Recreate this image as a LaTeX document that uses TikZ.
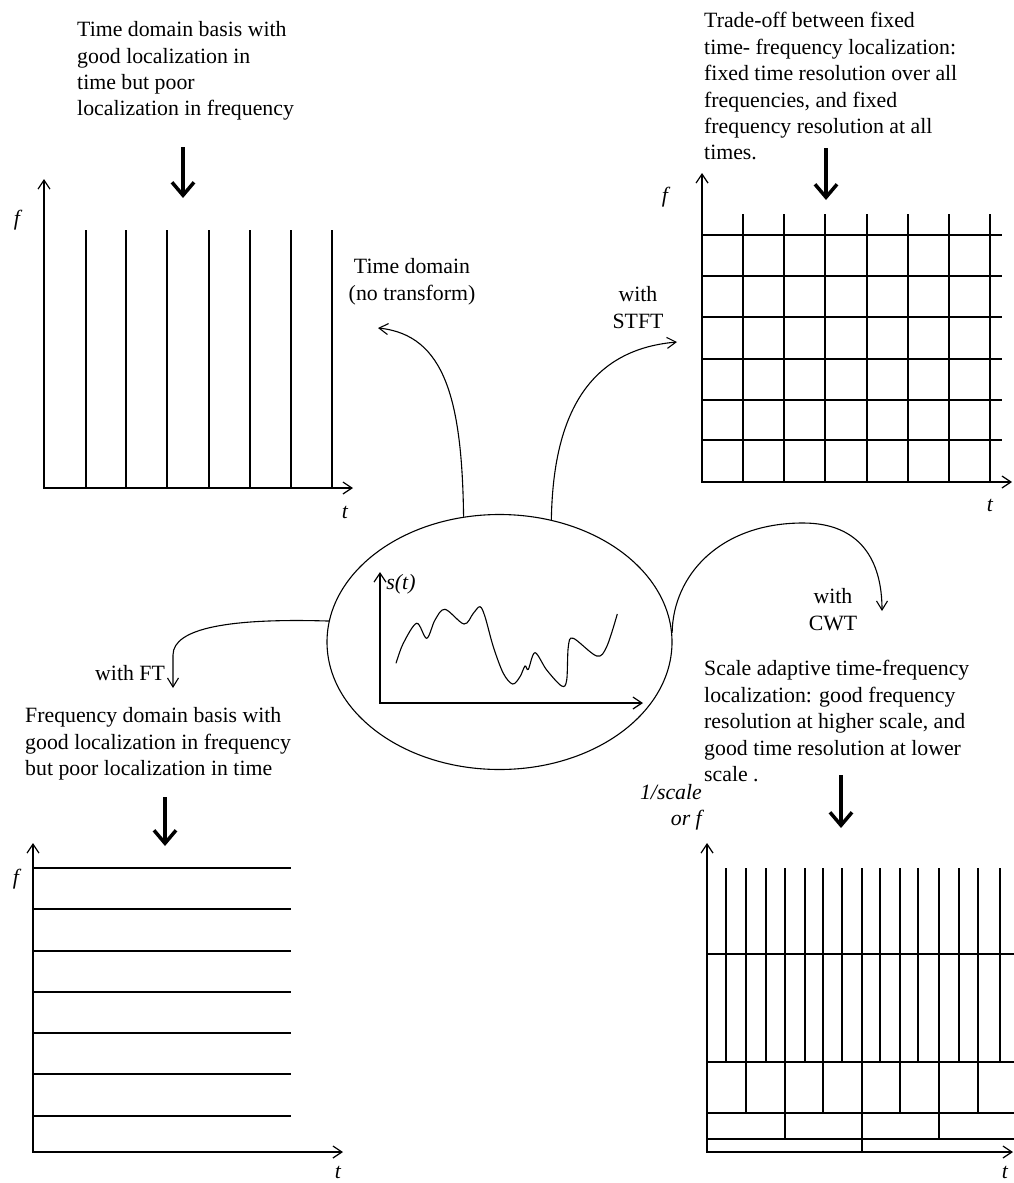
\documentclass[tikz,border=0pt]{standalone}
\usepackage{fontspec}
\setmainfont{Liberation Serif}
\usetikzlibrary{arrows.meta,shapes.geometric}
\begin{document}
\begin{tikzpicture}[x=1pt,y=-1pt,
  txt/.style={inner sep=0pt, align=left, font=\fontsize{21.8}{26.4}\selectfont},
  ctxt/.style={inner sep=0pt, align=center, font=\fontsize{21.8}{26.4}\selectfont},
  axlbl/.style={inner sep=0pt, font=\fontsize{21.8}{26.4}\selectfont\itshape},
  axes/.style={line width=1.2pt, {Straight Barb[length=9pt,width=12pt]}-{Straight Barb[length=9pt,width=12pt]}},
  gridln/.style={line width=1.2pt},
  conn/.style={line width=1.1pt, -{Straight Barb[length=9pt,width=11pt]}},
  bigarrow/.style={line width=3.5pt, -{Straight Barb[length=13pt,width=22pt]}},
  sigcurve/.style={line width=1.1pt},
]
\useasboundingbox (0,0) rectangle (1014,1183);

% ---------- texts ----------
\node[txt, anchor=north west] (tdtext) at (77,21.3) {Time domain basis with\\good localization in\\time but poor\\localization in frequency};
\node[txt, anchor=north west] (stfttext) at (704,12.3) {Trade-off between fixed\\time- frequency localization:\\fixed time resolution over all\\frequencies, and fixed\\frequency resolution at all\\times.};
\node[txt, anchor=north west] (cwttext) at (704,660.3) {Scale adaptive time-frequency\\localization: good frequency\\resolution at higher scale, and\\good time resolution at lower\\scale .};
\node[txt, anchor=north west] (fttext) at (25,707.3) {Frequency domain basis with\\good localization in frequency\\but poor localization in time};

\node[ctxt, anchor=north] (tdlbl) at (412,258.3) {Time domain\\(no transform)};
\node[ctxt, anchor=north] (stftlbl) at (638,286.3) {with\\STFT};
\node[ctxt, anchor=north] (cwtlbl) at (833,588.3) {with\\CWT};
\node[txt, anchor=base west] (ftlbl) at (95,680) {with FT};

% ---------- thick arrows ----------
\coordinate (a1s) at (183,147); \coordinate (a1e) at (183,198);
\coordinate (a2s) at (826,148); \coordinate (a2e) at (826,200);
\coordinate (a3s) at (165,797); \coordinate (a3e) at (165,846);
\coordinate (a4s) at (841,775); \coordinate (a4e) at (841,828);
\draw[bigarrow] (a1s) -- (a1e);
\draw[bigarrow] (a2s) -- (a2e);
\draw[bigarrow] (a3s) -- (a3e);
\draw[bigarrow] (a4s) -- (a4e);

% ---------- panel 1: time domain ----------
\draw[axes] (44,179) -- (44,488) -- (353,488);
\foreach \x in {86,126,167,209,250,291,332} \draw[gridln] (\x,230) -- (\x,488);
\node[axlbl] (f1) at (17,220) {f};
\node[axlbl] (t1) at (345,512) {t};

% ---------- panel 2: STFT ----------
\draw[axes] (702,173) -- (702,482) -- (1012,482);
\foreach \x in {743,784,825,867,908,949,990} \draw[gridln] (\x,214) -- (\x,482);
\foreach \y in {235,276,317,359,400,440} \draw[gridln] (702,\y) -- (1002,\y);
\node[axlbl] (f2) at (665,197) {f};
\node[axlbl] (t2) at (990,505) {t};

% ---------- panel 3: FT ----------
\draw[axes] (33,843) -- (33,1152) -- (343,1152);
\foreach \y in {868,909,951,992,1033,1074,1116} \draw[gridln] (33,\y) -- (291,\y);
\node[axlbl] (f3) at (16,879) {f};
\node[axlbl] (t3) at (338,1172) {t};

% ---------- panel 4: CWT ----------
\draw[axes] (707,843) -- (707,1152) -- (1013,1152);
\foreach \y in {954,1062,1113,1139} \draw[gridln] (707,\y) -- (1014,\y);
\foreach \x in {726,746,766,785,805,823,842,862,880,900,918,939,959,978,1000} \draw[gridln] (\x,868) -- (\x,1062);
\foreach \x in {746,785,823,862,900,939,978} \draw[gridln] (\x,1062) -- (\x,1113);
\foreach \x in {785,862,939} \draw[gridln] (\x,1113) -- (\x,1139);
\draw[gridln] (862,1139) -- (862,1152);
\node[axlbl, align=right, anchor=north east] (f4) at (702,784) {1/scale\\or f};
\node[axlbl] (t4) at (1005,1172) {t};

% ---------- center signal ----------
\node[draw, ellipse, line width=1.1pt, minimum width=345pt, minimum height=255pt, inner sep=0pt] (sig) at (499.5,642) {};
\draw[axes] (380,572) -- (380,703) -- (643,703);
\node[axlbl] (slbl) at (401,584) {s(t)};
\draw[sigcurve] plot[smooth, tension=0.55] coordinates {
 (396,663.3) (403.3,643.3) (416.7,623.3) (426.7,638.3) (435,620) (445,609.3)
 (464,624) (473.3,613.3) (480,606.7) (485,616.7) (493.3,646.7) (503.3,673.3)
 (512.7,684) (520,676.7) (525,666) (528.3,669.3) (535,652.7) (546.7,670)
 (561.7,686) (566.7,680) (568.3,646.7) (573.3,638.3) (596.7,656) (606.7,646.7) (617.3,614)};

% ---------- connectors ----------
\coordinate (tdEnd) at (378,328);
\coordinate (stftEnd) at (677,342);
\coordinate (cwtTop) at (803,523);
\coordinate (cwtEnd) at (882,611);
\coordinate (ftBend) at (173,655);
\coordinate (ftEnd) at (173,688);
\draw[conn] (sig.106.7) .. controls (462,400) and (445,335) .. (tdEnd);
\draw[conn] (sig.67) .. controls (553,420) and (585,350) .. (stftEnd);
\draw[conn] (sig.3) .. controls (673,575) and (720,523) .. (cwtTop) .. controls (860,523) and (882,560) .. (cwtEnd);
\draw[conn] (sig.173) .. controls (230,618) and (173,628) .. (ftBend) -- (ftEnd);
\end{tikzpicture}
\end{document}
